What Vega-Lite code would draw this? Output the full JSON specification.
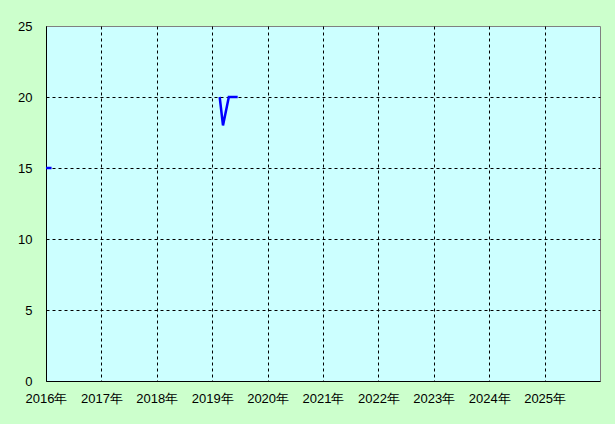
{
  "$schema": "https://vega.github.io/schema/vega-lite/v6.json",
  "width": 554,
  "height": 355,
  "autosize": {"type": "none"},
  "padding": {"left": 46, "top": 26, "right": 15, "bottom": 43},
  "background": "#ccffcc",
  "config": {
    "view": {"fill": "#ccffff", "stroke": "#808080", "strokeWidth": 1},
    "axis": {"labelFont": "Liberation Sans", "labelFontSize": 13, "labelColor": "black"}
  },
  "data": {
    "values": [
      {"seg": "a", "year": 2016.0, "value": 15},
      {"seg": "a", "year": 2016.1, "value": 15},
      {"seg": "b", "year": 2019.135, "value": 20},
      {"seg": "b", "year": 2019.195, "value": 18},
      {"seg": "b", "year": 2019.3, "value": 20},
      {"seg": "b", "year": 2019.46, "value": 20}
    ]
  },
  "mark": {"type": "line", "color": "#0000ff", "strokeWidth": 2.5, "clip": true},
  "encoding": {
    "detail": {"field": "seg"},
    "x": {
      "field": "year", "type": "quantitative",
      "scale": {"domain": [2016, 2026], "nice": false, "zero": false},
      "axis": {
        "title": null,
        "values": [2016, 2017, 2018, 2019, 2020, 2021, 2022, 2023, 2024, 2025],
        "labelExpr": "format(datum.value, 'd') + '年'",
        "ticks": false,
        "labelPadding": 11,
        "labelAlign": "center",
        "domainColor": "black",
        "grid": true,
        "gridColor": "black",
        "gridDash": [3, 3],
        "gridOpacity": 1
      }
    },
    "y": {
      "field": "value", "type": "quantitative",
      "scale": {"domain": [0, 25], "nice": false},
      "axis": {
        "title": null,
        "values": [0, 5, 10, 15, 20, 25],
        "ticks": false,
        "labelPadding": 14,
        "domainColor": "black",
        "grid": true,
        "gridColor": {"condition": {"test": "datum.value == 25 || datum.value == 0", "value": "transparent"}, "value": "black"},
        "gridDash": [3, 3],
        "gridOpacity": 1
      }
    }
  }
}
